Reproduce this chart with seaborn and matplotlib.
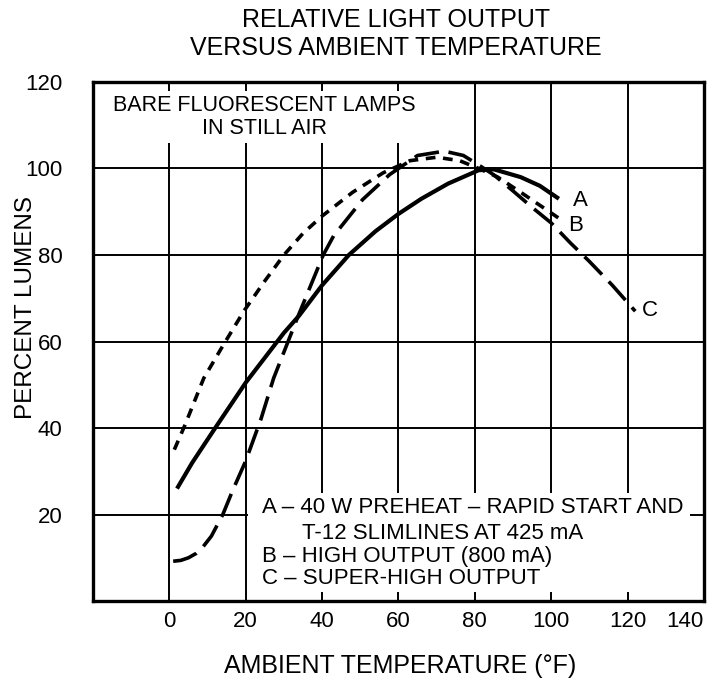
import matplotlib
matplotlib.use("Agg")
import matplotlib.pyplot as plt
from matplotlib.patches import Rectangle
import seaborn as sns
import pandas as pd

# Ambient temperature (°F) and percent lumens for each lamp type
temp_a = [2, 6, 12, 20, 30, 34, 40, 47, 54, 60, 66, 73, 81, 85, 92, 97, 102]
lumens_a = [26, 32, 40, 50.5, 62, 66, 73, 80, 85.5, 89.5, 93, 96.5, 99.6, 99.8, 98, 96, 93]

temp_b = [1.3, 4, 9, 14, 19.5, 25, 30, 35, 40, 48, 56, 63, 70, 76, 81, 86, 92, 97, 102]
lumens_b = [35, 40.5, 51.5, 59, 67, 74, 80, 85, 89, 94.5, 99, 101.8, 102.6, 101.8, 100, 98, 94.5, 91.5, 88.5]

temp_c = [1, 3, 5, 7, 8.7, 11, 14, 16.5, 20, 24, 27.3, 33.5, 40.3, 43, 50.6, 57.7, 65, 72, 77, 81, 85,
          90, 95, 100, 105, 110, 116, 122]
lumens_c = [9.2, 9.4, 10, 11, 12.4, 15, 20, 25.4, 32.4, 42.1, 51.5, 65.4, 80, 84.4, 92.8, 98.6, 103, 104,
            103, 100.8, 98.5, 94.8, 91, 87.4, 82.8, 78.5, 73, 67]

x_ticks = [0, 20, 40, 60, 80, 100, 120, 140]
y_ticks = [20, 40, 60, 80, 100, 120]

title_lines = ["RELATIVE LIGHT OUTPUT", "VERSUS AMBIENT TEMPERATURE"]
note_text = "BARE FLUORESCENT LAMPS\nIN STILL AIR"
key_lines = [
    "A \u2013 40 W PREHEAT \u2013 RAPID START AND",
    "T-12 SLIMLINES AT 425 mA",
    "B \u2013 HIGH OUTPUT (800 mA)",
    "C \u2013 SUPER-HIGH OUTPUT",
]
curve_labels = ["A", "B", "C"]

sns.set_theme(style="white")
plt.rcParams["font.family"] = ["Liberation Sans", "DejaVu Sans"]
plt.rcParams["lines.scale_dashes"] = False

fig = plt.figure(figsize=(7.23, 6.83), dpi=100)
ax = fig.add_axes([0.1286, 0.120, 0.8451, 0.760])

df_a = pd.DataFrame({"temp": temp_a, "lumens": lumens_a})
df_b = pd.DataFrame({"temp": temp_b, "lumens": lumens_b})
df_c = pd.DataFrame({"temp": temp_c, "lumens": lumens_c})

sns.lineplot(data=df_a, x="temp", y="lumens", ax=ax, color="black", lw=3.0,
             sort=False, zorder=3, solid_capstyle="butt")
sns.lineplot(data=df_b, x="temp", y="lumens", ax=ax, color="black", lw=2.6,
             sort=False, zorder=3, dashes=False, linestyle=(0, (7, 5.5)))
sns.lineplot(data=df_c, x="temp", y="lumens", ax=ax, color="black", lw=2.6,
             sort=False, zorder=3, dashes=False, linestyle=(0, (18, 7)))

ax.set_xlim(-20, 140)
ax.set_ylim(0, 120)
ax.set_xticks(x_ticks)
ax.set_yticks(y_ticks)
ax.set_xticklabels([str(v) for v in x_ticks], fontsize=16)
ax.set_yticklabels([str(v) for v in y_ticks], fontsize=16)
ax.get_xticklabels()[-1].set_horizontalalignment("right")
ax.get_xticklabels()[-1].set_x(141)
ax.tick_params(axis="x", length=0, pad=7, colors="black")
ax.tick_params(axis="y", length=0, pad=22, colors="black")
ax.set_xlabel("")
ax.set_ylabel("")

ax.set_axisbelow(True)
ax.grid(True, color="black", lw=1.4)
for s in ax.spines.values():
    s.set_visible(True)
    s.set_color("black")
    s.set_linewidth(2.4)

# white panels behind the note and the key
ax.add_patch(Rectangle((0.02, 0.882), 0.535, 0.101, transform=ax.transAxes,
                       facecolor="white", edgecolor="none", zorder=1.5))
ax.add_patch(Rectangle((0.254, 0.017), 0.723, 0.191, transform=ax.transAxes,
                       facecolor="white", edgecolor="none", zorder=1.5))

ax.text(0.28, 0.932, note_text, transform=ax.transAxes, ha="center", va="center",
        fontsize=15.5, linespacing=1.12, color="black", zorder=4)

key_x = [0.2766, 0.342, 0.2766, 0.2766]
key_y = [0.181, 0.131, 0.086, 0.044]
for tx, ty, line in zip(key_x, key_y, key_lines):
    ax.text(tx, ty, line, transform=ax.transAxes, ha="left", va="center",
            fontsize=16, color="black", zorder=4)

label_pos = [(107.6, 92.7), (106.5, 86.9), (125.7, 67.1)]
for (lx, ly), lab in zip(label_pos, curve_labels):
    ax.text(lx, ly, lab, ha="center", va="center", fontsize=16, color="black", zorder=4)

fig.text(0.548, 0.970, title_lines[0], ha="center", va="center", fontsize=18, color="black")
fig.text(0.548, 0.929, title_lines[1], ha="center", va="center", fontsize=18, color="black")
fig.text(0.036, 0.550, "PERCENT LUMENS", rotation=90, ha="center", va="center",
         fontsize=17.5, color="black")
fig.text(0.553, 0.025, "AMBIENT TEMPERATURE (\u00b0F)", ha="center", va="center",
         fontsize=18, color="black")

fig.savefig("out.png", dpi=100, facecolor="white")
